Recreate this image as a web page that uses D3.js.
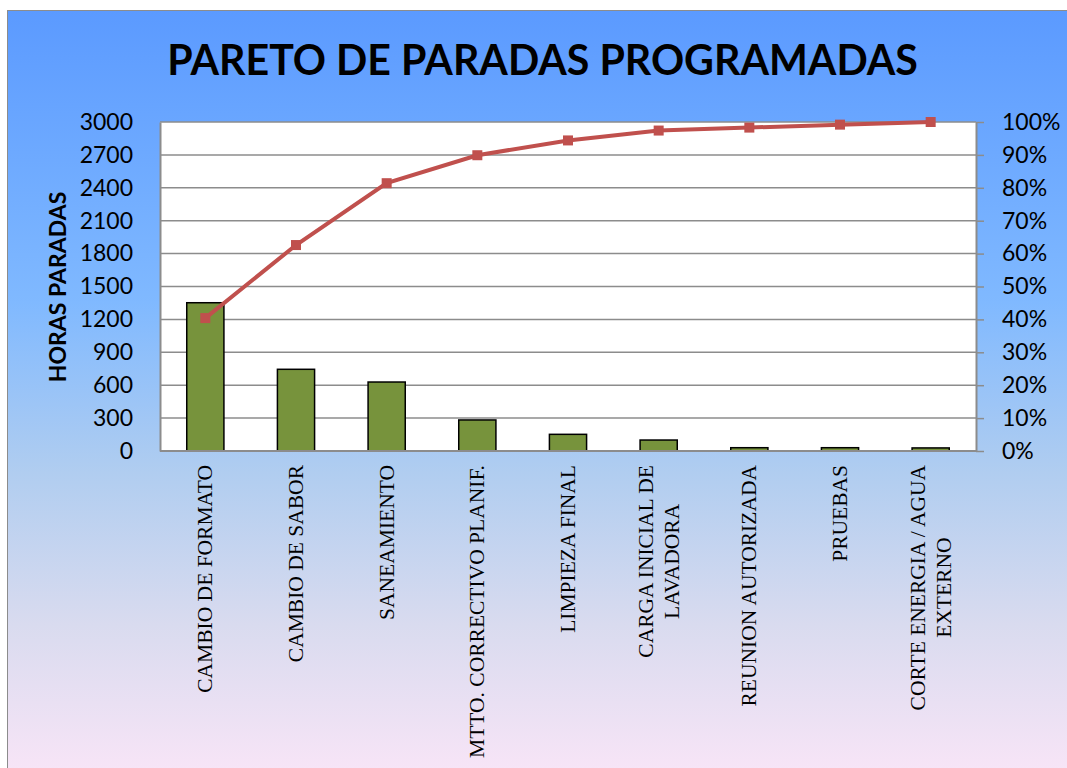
<html>
  <head>
    <style>
      body { margin: 0; background: #fff; }
      svg { display: block; }
      .num { font-family: Lato, "Open Sans", sans-serif; font-size: 23px; fill: #000; }
      .cat { font-family: "Liberation Serif", "Times New Roman", serif; font-size: 21.5px; fill: #000; }
    </style>
  </head>
  <body>
    <div id="container"></div>
    <script src="https://d3js.org/d3.v7.min.js"></script>
    <script>

    // data
    var categories = ["CAMBIO DE FORMATO", "CAMBIO DE SABOR", "SANEAMIENTO", "MTTO. CORRECTIVO PLANIF.",
                      "LIMPIEZA FINAL", "CARGA INICIAL DE LAVADORA", "REUNION AUTORIZADA", "PRUEBAS",
                      "CORTE ENERGIA / AGUA EXTERNO"];
    var labelLines = [["CAMBIO DE FORMATO"], ["CAMBIO DE SABOR"], ["SANEAMIENTO"], ["MTTO. CORRECTIVO PLANIF."],
                      ["LIMPIEZA FINAL"], ["CARGA INICIAL DE", "LAVADORA"], ["REUNION AUTORIZADA"], ["PRUEBAS"],
                      ["CORTE ENERGIA / AGUA", "EXTERNO"]];
    var hours = [1352, 745, 629, 283, 152, 100, 30, 30, 28];
    var cumPct = [40.4, 62.6, 81.4, 89.9, 94.4, 97.4, 98.3, 99.2, 100];
    var hourTicks = [0, 300, 600, 900, 1200, 1500, 1800, 2100, 2400, 2700, 3000];
    var pctTicks = [0, 10, 20, 30, 40, 50, 60, 70, 80, 90, 100];

    var W = 1067, H = 768;
    var plot = {left: 160, right: 976, top: 122, bottom: 451};

    var svg = d3.select("#container").append("svg")
        .attr("width", W)
        .attr("height", H);

    var defs = svg.append("defs");
    var grad = defs.append("linearGradient")
        .attr("id", "bg")
        .attr("x1", 0).attr("y1", 0).attr("x2", 0).attr("y2", 1);
    [[0, "#5b9aff"], [0.38, "#80b9ff"], [0.6, "#b0cdf0"], [0.8, "#d9dbef"], [1, "#f9e5f7"]].forEach(function(s) {
      grad.append("stop").attr("offset", s[0]).attr("stop-color", s[1]);
    });

    // chart frame
    svg.append("rect")
        .attr("x", 7.5).attr("y", 10.5)
        .attr("width", W).attr("height", H)
        .attr("fill", "url(#bg)")
        .attr("stroke", "#8c8c8c")
        .attr("stroke-width", 1);

    var x = d3.scaleBand()
        .domain(categories)
        .range([plot.left, plot.right])
        .paddingInner(0.59)
        .paddingOuter(0.295);

    var y = d3.scaleLinear().domain([0, 3000]).range([plot.bottom, plot.top]);
    var yPct = d3.scaleLinear().domain([0, 100]).range([plot.bottom, plot.top]);

    // plot area
    svg.append("rect")
        .attr("x", plot.left).attr("y", plot.top)
        .attr("width", plot.right - plot.left)
        .attr("height", plot.bottom - plot.top)
        .attr("fill", "#fff");

    svg.append("g")
      .selectAll("line")
      .data(hourTicks)
      .enter().append("line")
        .attr("x1", plot.left).attr("x2", plot.right)
        .attr("y1", function(d) { return y(d); })
        .attr("y2", function(d) { return y(d); })
        .attr("stroke", "#8c8c8c")
        .attr("stroke-width", 1.5);

    // left axis
    var gl = svg.append("g")
        .attr("transform", "translate(" + plot.left + ",0)")
        .call(d3.axisLeft(y).tickValues(hourTicks).tickSize(0).tickPadding(27).tickFormat(d3.format("d")));
    gl.select(".domain").attr("stroke", "#8c8c8c").attr("stroke-width", 2);
    gl.selectAll("text").attr("class", "num").attr("font-family", null).attr("font-size", null);

    // right axis
    var gr = svg.append("g")
        .attr("transform", "translate(" + plot.right + ",0)")
        .call(d3.axisRight(yPct).tickValues(pctTicks).tickSize(8).tickSizeOuter(0).tickPadding(18)
          .tickFormat(function(d) { return d + "%"; }));
    gr.select(".domain").attr("stroke", "#8c8c8c").attr("stroke-width", 2);
    gr.selectAll(".tick line").attr("stroke", "#8c8c8c").attr("stroke-width", 1.5);
    gr.selectAll("text").attr("class", "num").attr("font-family", null).attr("font-size", null);

    // bars
    svg.append("g")
      .selectAll("rect")
      .data(hours)
      .enter().append("rect")
        .attr("x", function(d, i) { return x(categories[i]); })
        .attr("y", function(d) { return y(d); })
        .attr("width", x.bandwidth())
        .attr("height", function(d) { return plot.bottom - y(d); })
        .attr("fill", "#77933c")
        .attr("stroke", "#000")
        .attr("stroke-width", 1.5);

    // bottom axis line
    svg.append("line")
        .attr("x1", plot.left).attr("x2", plot.right)
        .attr("y1", plot.bottom).attr("y2", plot.bottom)
        .attr("stroke", "#8c8c8c")
        .attr("stroke-width", 2);

    // cumulative line
    var cx = function(d, i) { return x(categories[i]) + x.bandwidth() / 2; };
    svg.append("path")
        .datum(cumPct)
        .attr("fill", "none")
        .attr("stroke", "#c0504d")
        .attr("stroke-width", 4)
        .attr("d", d3.line().x(cx).y(function(d) { return yPct(d); }));

    svg.append("g")
      .selectAll("rect")
      .data(cumPct)
      .enter().append("rect")
        .attr("x", function(d, i) { return cx(d, i) - 5; })
        .attr("y", function(d) { return yPct(d) - 5; })
        .attr("width", 10).attr("height", 10)
        .attr("fill", "#c0504d");

    // category labels
    var lab = svg.append("g")
      .selectAll("g")
      .data(labelLines)
      .enter().append("g")
        .attr("transform", function(d, i) { return "translate(" + cx(d, i) + ",465) rotate(-90)"; });

    lab.each(function(lines) {
      var g = d3.select(this);
      var texts = lines.map(function(t, j) {
        return g.append("text")
            .attr("class", "cat")
            .attr("text-anchor", "middle")
            .attr("y", (j - (lines.length - 1) / 2) * 26 + 7)
            .text(t);
      });
      var maxLen = d3.max(texts, function(t) { return t.node().getComputedTextLength(); });
      texts.forEach(function(t) { t.attr("x", -maxLen / 2); });
    });

    // y axis title
    svg.append("text")
        .attr("transform", "translate(66,287) rotate(-90)")
        .attr("text-anchor", "middle")
        .attr("font-family", "Lato, 'Open Sans', sans-serif")
        .attr("font-weight", "bold")
        .attr("font-size", 23)
        .text("HORAS PARADAS");

    // title
    var title = svg.append("text")
        .attr("x", 542.5)
        .attr("y", 75)
        .attr("text-anchor", "middle")
        .attr("font-family", "Lato, 'Open Sans', sans-serif")
        .attr("font-weight", "bold")
        .attr("font-size", 40)
        .text("PARETO DE PARADAS PROGRAMADAS");
    var tl = title.node().getComputedTextLength();
    title.attr("font-size", 40 * 751 / tl);

    </script>
  </body>
</html>
